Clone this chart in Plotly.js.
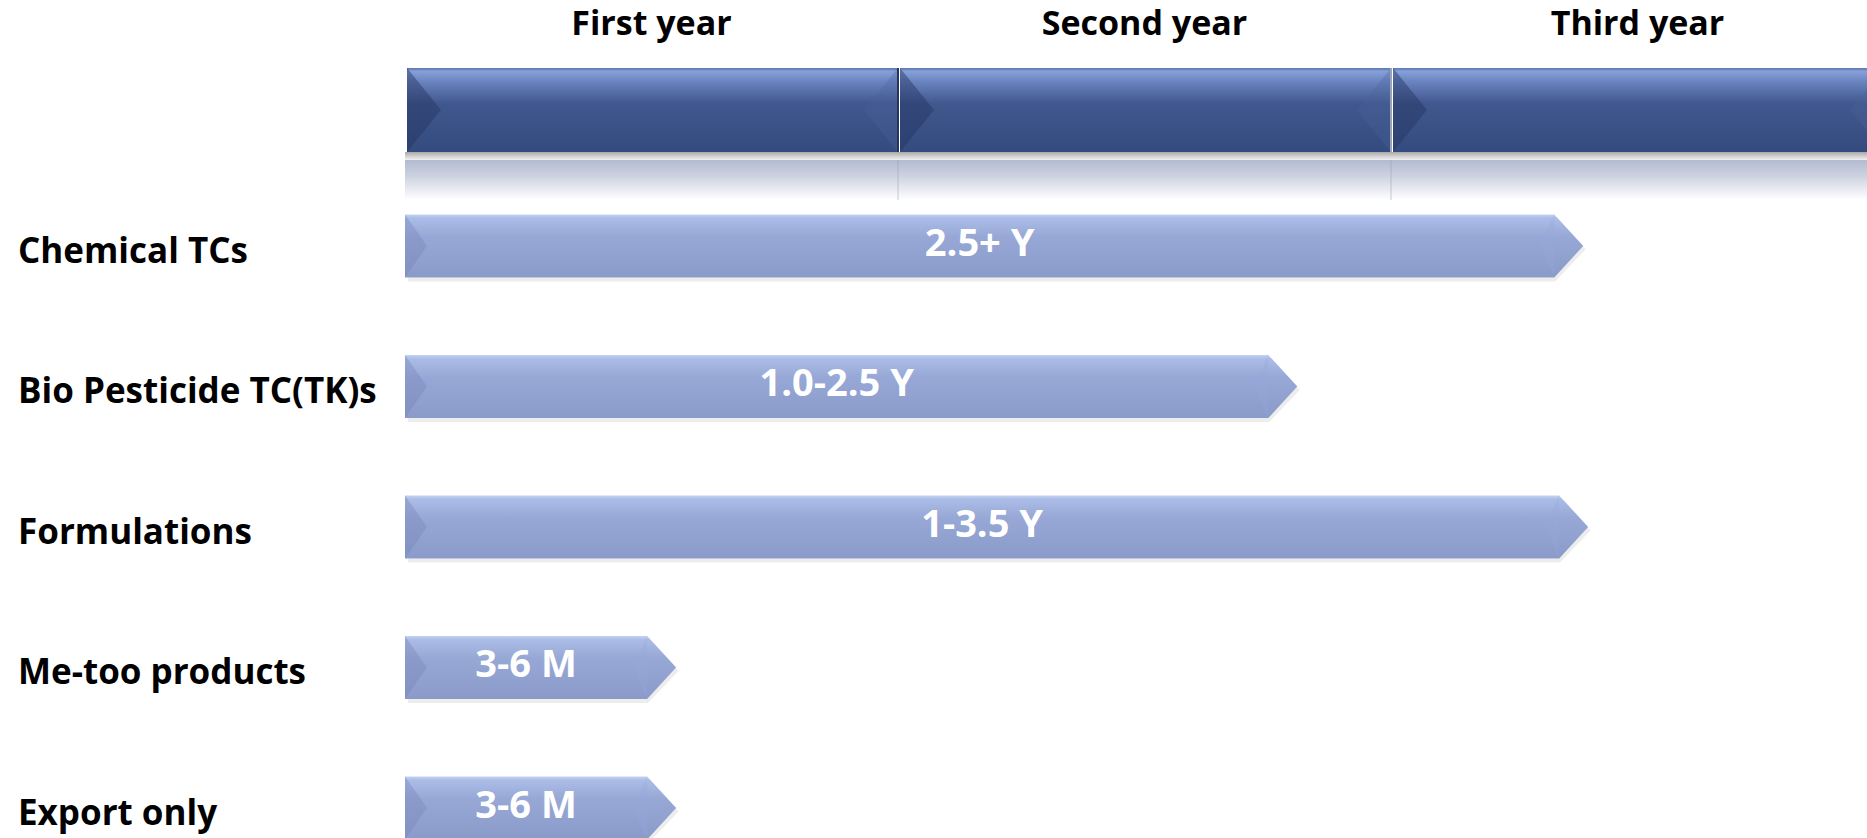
<!DOCTYPE html>
<html>
<head>
<meta charset="utf-8">
<script src="https://cdn.plot.ly/plotly-3.0.1.min.js"></script>
<style>
  html, body { margin: 0; padding: 0; background: #ffffff; }
  #chart { width: 1867px; height: 838px; }
</style>
</head>
<body>
<div id="chart"></div>
<script>
// ---------------- DATA ----------------
const yearLabels = ['First year', 'Second year', 'Third year'];
const yearStarts = [0, 1, 2];
const yearEnds = [1, 2, 3];

const categories = ['Chemical TCs', 'Bio Pesticide TC(TK)s', 'Formulations', 'Me-too products', 'Export only'];
const durationLabels = ['2.5+ Y', '1.0-2.5 Y', '1-3.5 Y', '3-6 M', '3-6 M'];
const startYear = [0, 0, 0, 0, 0];
const endYear = [2.39, 1.81, 2.40, 0.55, 0.55];   // arrow tip, in years

// ---------------- STYLE / LAYOUT CONSTANTS ----------------
const W = 1867, H = 838;
const PX = 1 / 493;                 // years per pixel
const X_RANGE = [-405 * PX, (W - 405) * PX];
const ROW_UNIT = 140.5;             // px per row unit
const YP = 1 / ROW_UNIT;            // row units per pixel
const ROW0_PX = 246;
const Y_RANGE = [(H - ROW0_PX) * YP, -ROW0_PX * YP];  // reversed
const HALF_H = 31.5 * YP;
const TIP = 29 * PX;
const BEVEL = 22 * PX;
const HEADER_TOP = (68 - ROW0_PX) * YP, HEADER_BOT = (152 - ROW0_PX) * YP;
const REFL_TOP = (160 - ROW0_PX) * YP, REFL_BOT = (200 - ROW0_PX) * YP;
const HEADER_LABEL_Y = (26 - ROW0_PX) * YP;
const FONT = 'Open Sans, Noto Sans, Arial, sans-serif';

const traces = [];
const skip = { hoverinfo: 'skip', showlegend: false };

// shadow band directly under header
traces.push(Object.assign({
  type: 'scatter', mode: 'lines',
  x: [yearStarts[0], yearEnds[2] + 0.2, yearEnds[2] + 0.2, yearStarts[0], yearStarts[0]],
  y: [HEADER_BOT, HEADER_BOT, REFL_TOP, REFL_TOP, HEADER_BOT],
  fill: 'toself', line: { width: 0 }, fillcolor: '#DADADA',
  fillgradient: { type: 'vertical', start: HEADER_BOT, stop: REFL_TOP,
    colorscale: [[0, '#A9A9A9'], [0.5, '#CFCFCF'], [1, '#F2F2F2']] }
}, skip));
// Reflection under header
traces.push(Object.assign({
  type: 'scatter', mode: 'lines',
  x: [yearStarts[0], yearEnds[2] + 0.2, yearEnds[2] + 0.2, yearStarts[0], yearStarts[0]],
  y: [REFL_TOP, REFL_TOP, REFL_BOT, REFL_BOT, REFL_TOP],
  fill: 'toself', line: { width: 0 }, fillcolor: '#D3D8E6',
  fillgradient: { type: 'vertical', start: REFL_TOP, stop: REFL_BOT,
    colorscale: [[0, '#B3BBD1'], [0.4, '#CDD2E0'], [1, '#FFFFFF']] }
}, skip));
// faint divider reflection
yearStarts.slice(1).forEach(function (xv) {
  traces.push(Object.assign({
    type: 'scatter', mode: 'lines', x: [xv, xv], y: [REFL_TOP, REFL_BOT],
    line: { color: 'rgba(150,158,185,0.35)', width: 1.5 }
  }, skip));
});

// Header segments
const dividerColors = ['#25355E', '#9DA3B3'];
yearLabels.forEach(function (lab, i) {
  const x0 = yearStarts[i] + 2 * PX, x1 = yearEnds[i];
  const mid = (HEADER_TOP + HEADER_BOT) / 2;
  traces.push(Object.assign({
    type: 'scatter', mode: 'lines',
    x: [x0, x1, x1, x0, x0], y: [HEADER_TOP, HEADER_TOP, HEADER_BOT, HEADER_BOT, HEADER_TOP],
    fill: 'toself', line: { width: 0 }, fillcolor: '#3B5185',
    fillgradient: { type: 'vertical', start: HEADER_TOP, stop: HEADER_BOT,
      colorscale: [[0, '#5B74AF'], [0.04, '#86A0D8'], [0.16, '#6A84C0'], [0.42, '#41588E'], [1, '#344B7F']] }
  }, skip));
  // left bevel (dark)
  traces.push(Object.assign({
    type: 'scatter', mode: 'lines',
    x: [x0, x0 + 34 * PX, x0, x0], y: [HEADER_TOP, mid, HEADER_BOT, HEADER_TOP],
    fill: 'toself', line: { width: 0 }, fillcolor: 'rgba(35,52,95,0.45)'
  }, skip));
  // right bevel (slightly lighter)
  traces.push(Object.assign({
    type: 'scatter', mode: 'lines',
    x: [x1, x1 - 34 * PX, x1, x1], y: [HEADER_TOP, mid, HEADER_BOT, HEADER_TOP],
    fill: 'toself', line: { width: 0 }, fillcolor: 'rgba(75,100,155,0.3)'
  }, skip));
  // header label
  traces.push(Object.assign({
    type: 'scatter', mode: 'text',
    x: [(yearStarts[i] + yearEnds[i]) / 2], y: [HEADER_LABEL_Y], text: [lab],
    textposition: 'middle center',
    textfont: { family: FONT, size: 34, color: '#000000', weight: 700 }
  }, skip));
});
// dividers between header segments
yearStarts.slice(1).forEach(function (xv, k) {
  traces.push(Object.assign({
    type: 'scatter', mode: 'lines', x: [xv, xv], y: [HEADER_TOP, HEADER_BOT],
    line: { color: dividerColors[k], width: 2 }
  }, skip));
});

// Arrow bars
categories.forEach(function (cat, i) {
  const s = startYear[i], e = endYear[i], b = e - TIP;
  const top = i - HALF_H, bot = i + HALF_H;
  // soft shadow
  traces.push(Object.assign({
    type: 'scatter', mode: 'lines',
    x: [s + 3 * PX, b, e + 1 * PX], y: [bot + 2 * YP, bot + 2 * YP, i + 2 * YP],
    line: { color: 'rgba(0,0,0,0.07)', width: 4 }
  }, skip));
  // body + tip
  traces.push(Object.assign({
    type: 'scatter', mode: 'lines',
    x: [s, b, e, b, s, s], y: [top, top, i, bot, bot, top],
    fill: 'toself', line: { width: 0 }, fillcolor: '#93A4D1',
    fillgradient: { type: 'vertical', start: top, stop: bot,
      colorscale: [[0, '#C3D3F3'], [0.06, '#AABCE6'], [0.35, '#97A8D6'], [1, '#8A9BC9']] }
  }, skip));
  // left bevel
  traces.push(Object.assign({
    type: 'scatter', mode: 'lines',
    x: [s, s + BEVEL, s, s], y: [top, i, bot, top],
    fill: 'toself', line: { width: 0 }, fillcolor: 'rgba(115,130,180,0.35)'
  }, skip));
  // tip facet
  traces.push(Object.assign({
    type: 'scatter', mode: 'lines',
    x: [b, b - 14 * PX, b, b], y: [top, i, bot, top],
    fill: 'toself', line: { width: 0 }, fillcolor: 'rgba(150,170,220,0.3)'
  }, skip));
  // duration text
  traces.push(Object.assign({
    type: 'scatter', mode: 'text',
    x: [(s + b) / 2], y: [i], text: [durationLabels[i]],
    textposition: 'middle center',
    textfont: { family: FONT, size: 38, color: '#FFFFFF', weight: 700 }
  }, skip));
});

const annotations = categories.map(function (cat, i) {
  return {
    xref: 'paper', yref: 'y', x: 16 / W, y: i + 3 * YP, xanchor: 'left', yanchor: 'middle',
    text: cat, showarrow: false,
    font: { family: FONT, size: 35, color: '#000000', weight: 700 }
  };
});

const layout = {
  width: W, height: H,
  margin: { l: 0, r: 0, t: 0, b: 0, pad: 0 },
  paper_bgcolor: '#FFFFFF', plot_bgcolor: '#FFFFFF',
  xaxis: { range: X_RANGE, visible: false, fixedrange: true },
  yaxis: { range: Y_RANGE, visible: false, fixedrange: true },
  annotations: annotations,
  showlegend: false
};

Plotly.newPlot('chart', traces, layout, { staticPlot: true, displayModeBar: false });
</script>
</body>
</html>
